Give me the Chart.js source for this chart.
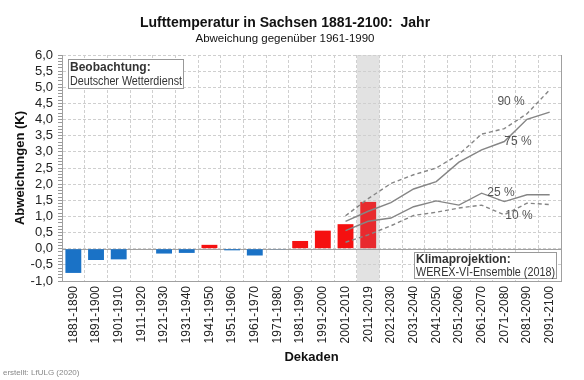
<!DOCTYPE html>
<html><head><meta charset="utf-8">
<script src="https://cdn.jsdelivr.net/npm/chart.js@4/dist/chart.umd.min.js"></script>
<style>html,body{margin:0;padding:0;background:#fff}#wrap{width:584px;height:380px}</style>
</head><body><div id="wrap"><canvas id="c" width="584" height="380"></canvas></div>
<script>
const decades = ['1881-1890','1891-1900','1901-1910','1911-1920','1921-1930','1931-1940','1941-1950','1951-1960','1961-1970','1971-1980','1981-1990','1991-2000','2001-2010','2011-2019','2021-2030','2031-2040','2041-2050','2051-2060','2061-2070','2071-2080','2081-2090','2091-2100'];
const observed = [-0.75,-0.35,-0.33,0.0,-0.15,-0.13,0.12,-0.05,-0.21,-0.02,0.24,0.56,0.76,1.45,null,null,null,null,null,null,null,null];
const p90 = [null,null,null,null,null,null,null,null,null,null,null,null,1.02,1.55,2.02,2.29,2.5,2.92,3.55,3.72,4.18,4.92];
const p75 = [null,null,null,null,null,null,null,null,null,null,null,null,0.85,1.16,1.43,1.85,2.08,2.68,3.06,3.32,4.01,4.23];
const p25 = [null,null,null,null,null,null,null,null,null,null,null,null,0.56,0.85,0.95,1.3,1.48,1.35,1.72,1.46,1.67,1.67];
const p10 = [null,null,null,null,null,null,null,null,null,null,null,null,0.2,0.43,0.71,1.03,1.13,1.26,1.35,1.05,1.41,1.37];
const yMin = -1, yMax = 6;
const shadedDecade = '2011-2019';
const lineLabels = [
  {text:'90 %', idx:19.3, val:4.55},
  {text:'75 %', idx:19.6, val:3.3},
  {text:'25 %', idx:18.85, val:1.74},
  {text:'10 %', idx:19.65, val:1.02}
];
const FONT = "'Liberation Sans', Arial, sans-serif";

const decor = {
  id: 'decor',
  beforeDraw(chart) {
    const {ctx, chartArea: a, scales: {x, y}} = chart;
    const i = decades.indexOf(shadedDecade);
    const w = x.getPixelForValue(1) - x.getPixelForValue(0);
    const cx = x.getPixelForValue(i);
    ctx.save();
    ctx.fillStyle = '#e2e2e2';
    ctx.fillRect(cx - w/2, a.top, w, a.bottom - a.top);
    ctx.restore();
  },
  beforeDatasetsDraw(chart) {
    const {ctx, chartArea: a, scales: {y}} = chart;
    ctx.save();
    ctx.strokeStyle = '#a0a0a0';
    ctx.lineWidth = 1;
    const y0 = Math.round(y.getPixelForValue(0)) + 0.5;
    ctx.beginPath(); ctx.moveTo(a.left, y0); ctx.lineTo(a.right, y0); ctx.stroke();
    ctx.beginPath(); ctx.moveTo(Math.round(a.right)+0.5, a.top); ctx.lineTo(Math.round(a.right)+0.5, a.bottom); ctx.stroke();
    ctx.restore();
  },
  afterDraw(chart) {
    const {ctx, chartArea: a, scales: {x, y}} = chart;
    ctx.save();
    ctx.font = '12px ' + FONT;
    ctx.fillStyle = '#555';
    ctx.textAlign = 'center';
    ctx.textBaseline = 'middle';
    const step = x.getPixelForValue(1) - x.getPixelForValue(0);
    for (const l of lineLabels) {
      const px = x.getPixelForValue(0) + l.idx * step;
      ctx.fillText(l.text, px, y.getPixelForValue(l.val));
    }
    ctx.textAlign = 'left';
    ctx.textBaseline = 'alphabetic';
    let bx = a.left + 6, by = a.top + 4;
    ctx.fillStyle = '#fff'; ctx.fillRect(bx, by, 115, 29);
    ctx.strokeStyle = '#999'; ctx.lineWidth = 1; ctx.strokeRect(bx+0.5, by+0.5, 115, 29);
    ctx.fillStyle = '#333';
    ctx.font = 'bold 12px ' + FONT; ctx.fillText('Beobachtung:', bx+2, by+12);
    ctx.font = '12px ' + FONT; ctx.fillText('Deutscher Wetterdienst', bx+2, by+26, 112);
    bx = a.right - 147; by = a.bottom - 29;
    ctx.fillStyle = '#fff'; ctx.fillRect(bx, by, 142, 26);
    ctx.strokeStyle = '#999'; ctx.strokeRect(bx+0.5, by+0.5, 142, 26);
    ctx.fillStyle = '#333';
    ctx.font = 'bold 12px ' + FONT; ctx.fillText('Klimaprojektion:', bx+2, by+11);
    ctx.font = '12px ' + FONT; ctx.fillText('WEREX-VI-Ensemble (2018)', bx+2, by+24, 139);
    ctx.font = '8px ' + FONT; ctx.fillStyle = '#888';
    ctx.fillText('erstellt: LfULG (2020)', 3, 375);
    ctx.restore();
  }
};

const lineDs = (label, data, dashed) => ({
  type: 'line', label, data,
  borderColor: '#858585', borderWidth: 1.4,
  borderDash: dashed ? [4, 3] : [],
  pointRadius: 0, tension: 0, fill: false, order: 1
});

new Chart(document.getElementById('c'), {
  type: 'bar',
  data: {
    labels: decades,
    datasets: [
      { label: 'Beobachtung', data: observed, order: 2,
        backgroundColor: c => (c.raw < 0 ? '#1a72c6' : (decades[c.dataIndex] === shadedDecade ? '#e82a2e' : '#f51010')),
        barPercentage: 0.7, categoryPercentage: 1 },
      lineDs('90 %', p90, true),
      lineDs('75 %', p75, false),
      lineDs('25 %', p25, false),
      lineDs('10 %', p10, true)
    ]
  },
  options: {
    responsive: false, animation: false, devicePixelRatio: 1,
    layout: { padding: { left: 9, right: 23, top: 0, bottom: 12 } },
    plugins: {
      legend: { display: false }, tooltip: { enabled: false },
      title: { display: true, text: 'Lufttemperatur in Sachsen 1881-2100:  Jahr', color: '#111',
        font: { family: FONT, size: 14, weight: 'bold', lineHeight: 1.2 }, padding: { top: 15, bottom: 0 } },
      subtitle: { display: true, text: 'Abweichung gegenüber 1961-1990', color: '#111',
        font: { family: FONT, size: 11.5, lineHeight: 1.2 }, padding: { top: 0, bottom: 9.4 } }
    },
    scales: {
      x: {
        grid: { color: '#cfcfcf', lineWidth: 1, offset: true, drawTicks: false },
        border: { display: true, color: '#a0a0a0', dash: [3, 2] },
        ticks: { autoSkip: false, maxRotation: 90, minRotation: 90, color: '#222', padding: 5,
          font: { family: FONT, size: 12 } },
        title: { display: true, text: 'Dekaden', color: '#111', padding: { top: 0, bottom: 3 },
          font: { family: FONT, size: 13, weight: 'bold', lineHeight: 1.2 } },
        afterFit: s => { s.height = 87; }
      },
      y: {
        min: yMin, max: yMax,
        grid: {
          color: c => (Math.round(c.tick.value * 10) % 5 === 0 ? '#cfcfcf' : 'rgba(0,0,0,0)'),
          tickColor: '#999', tickLength: 4
        },
        border: { display: true, color: '#a0a0a0', dash: [3, 2] },
        ticks: { stepSize: 0.1, autoSkip: false, color: '#222', padding: 5,
          font: { family: FONT, size: 13 },
          callback: v => (Math.round(v * 10) % 5 === 0 ? v.toFixed(1).replace('.', ',') : '') },
        title: { display: true, text: 'Abweichungen (K)', color: '#111', padding: { top: 4, bottom: 0 },
          font: { family: FONT, size: 13, weight: 'bold', lineHeight: 1.2 } },
        afterFit: s => { s.width = 53; }
      }
    }
  },
  plugins: [decor]
});
</script></body></html>
